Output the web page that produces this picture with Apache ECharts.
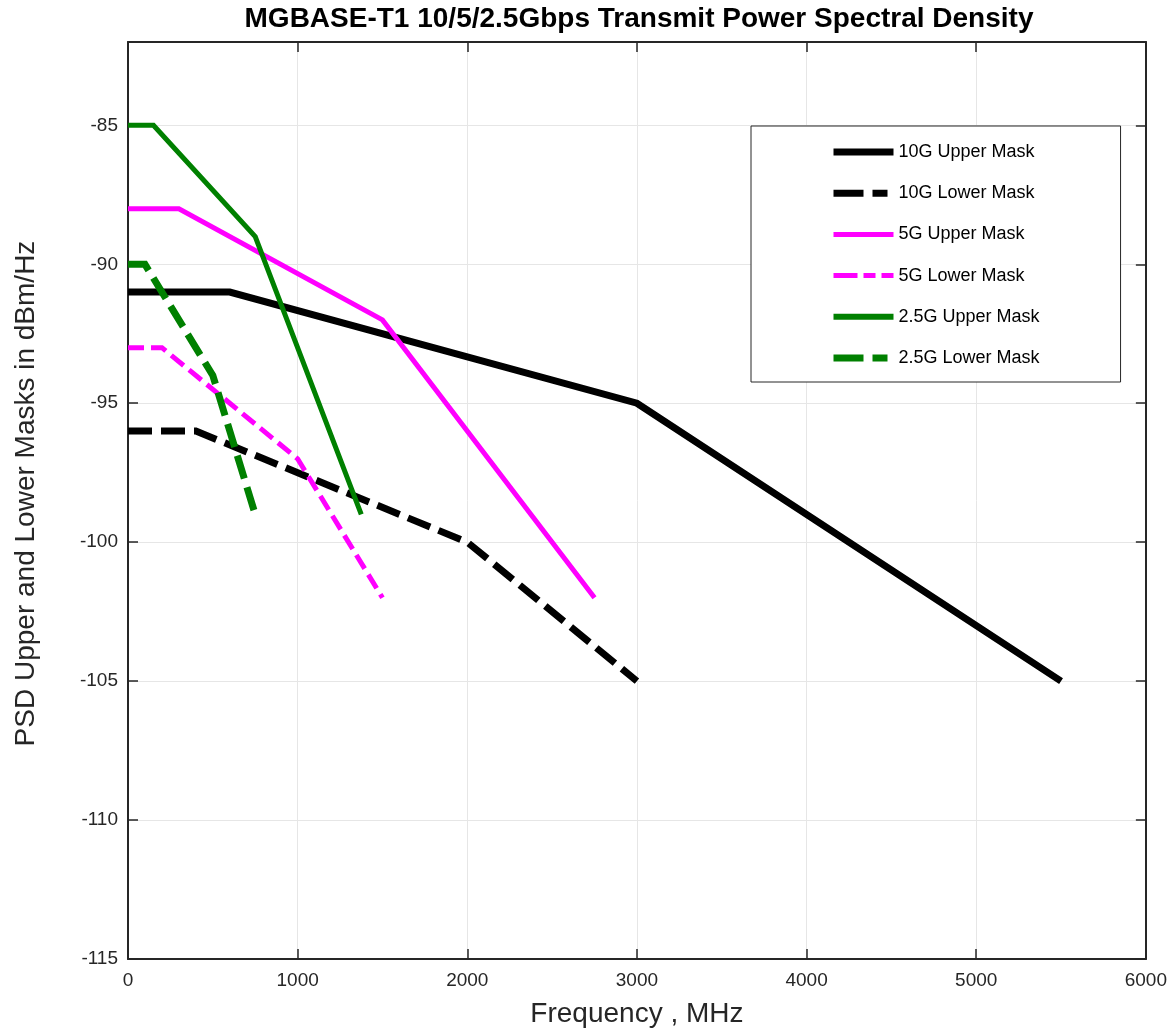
<!DOCTYPE html>
<html>
<head>
<meta charset="utf-8">
<title>MGBASE-T1 Transmit PSD</title>
<script src="https://cdn.jsdelivr.net/npm/echarts@6/dist/echarts.min.js"></script>
<style>
  html, body { margin: 0; padding: 0; background: #fff; overflow: hidden; }
  #chart { width: 1170px; height: 1033px; }
</style>
</head>
<body>
<div id="chart"></div>
<script>
// PSD mask breakpoints: frequency (MHz) and level (dBm/Hz)
const freq10GUpper = [0, 600, 3000, 5500];
const psd10GUpper  = [-91, -91, -95, -105];
const freq10GLower = [0, 400, 2000, 3000];
const psd10GLower  = [-96, -96, -100, -105];
const freq5GUpper  = [0, 300, 1500, 2750];
const psd5GUpper   = [-88, -88, -92, -102];
const freq5GLower  = [0, 200, 1000, 1500];
const psd5GLower   = [-93, -93, -97, -102];
const freq25GUpper = [0, 150, 750, 1375];
const psd25GUpper  = [-85, -85, -89, -99];
const freq25GLower = [0, 100, 500, 750];
const psd25GLower  = [-90, -90, -94, -99];

const seriesNames = ['10G Upper Mask', '10G Lower Mask', '5G Upper Mask',
                     '5G Lower Mask', '2.5G Upper Mask', '2.5G Lower Mask'];

const FONT = '"Liberation Sans", Arial, Helvetica, sans-serif';
const AXIS_COLOR = '#262626';
const GRID_COLOR = '#e6e6e6';

function pairs(xs, ys) {
  return xs.map((x, i) => [x, ys[i]]);
}

const lineDefs = [
  { name: seriesNames[0], x: freq10GUpper, y: psd10GUpper, color: '#000000', width: 7, type: 'solid',  legendWidth: 7, legendType: 'solid' },
  { name: seriesNames[1], x: freq10GLower, y: psd10GLower, color: '#000000', width: 7, type: [24, 9], legendWidth: 7, legendType: [30, 9, 15, 9] },
  { name: seriesNames[2], x: freq5GUpper,  y: psd5GUpper,  color: '#ff00ff', width: 5, type: 'solid',  legendWidth: 5, legendType: 'solid' },
  { name: seriesNames[3], x: freq5GLower,  y: psd5GLower,  color: '#ff00ff', width: 5, type: [16, 7], legendWidth: 5, legendType: [24, 6, 12, 6] },
  { name: seriesNames[4], x: freq25GUpper, y: psd25GUpper, color: '#008000', width: 5, type: 'solid',  legendWidth: 6, legendType: 'solid' },
  { name: seriesNames[5], x: freq25GLower, y: psd25GLower, color: '#008000', width: 7, type: [24, 9], legendWidth: 7, legendType: [30, 9, 15, 9] }
];

const chart = echarts.init(document.getElementById('chart'), null, { renderer: 'canvas', width: 1170, height: 1033 });

const frameAxis = {
  axisLine: { show: true, onZero: false, lineStyle: { color: AXIS_COLOR, width: 2 } },
  axisTick: { show: true, inside: true, length: 10, lineStyle: { color: AXIS_COLOR, width: 1.5 } }
};

const plainNumber = v => String(v);

const option = {
  animation: false,
  backgroundColor: '#ffffff',
  title: {
    text: 'MGBASE-T1 10/5/2.5Gbps Transmit Power Spectral Density',
    left: 639,
    top: 5,
    padding: 0,
    textAlign: 'center',
    textStyle: { fontFamily: FONT, fontSize: 28, fontWeight: 'bold', color: '#000000' }
  },
  // plot frame: x 128..1149, y 42..963
  grid: { left: 128, top: 42, width: 1021, height: 921, containLabel: false },
  legend: {
    orient: 'vertical',
    left: 751,
    top: 126,
    padding: [16, 81, 14, 79],
    itemWidth: 60,
    itemHeight: 20,
    itemGap: 21.2,
    backgroundColor: '#ffffff',
    borderColor: AXIS_COLOR,
    borderWidth: 1,
    textStyle: { fontFamily: FONT, fontSize: 18, color: '#000000', lineHeight: 20 },
    data: lineDefs.map(d => ({
      name: d.name,
      itemStyle: { opacity: 0 },
      lineStyle: { width: d.legendWidth, type: d.legendType, color: d.color, cap: 'butt' }
    }))
  },
  xAxis: [
    Object.assign({
      type: 'value', position: 'bottom', min: 0, max: 6000, interval: 1000,
      name: 'Frequency , MHz', nameLocation: 'middle', nameGap: 41,
      nameTextStyle: { fontFamily: FONT, fontSize: 28, color: AXIS_COLOR },
      axisLabel: { fontFamily: FONT, fontSize: 19, color: AXIS_COLOR, margin: 12, formatter: plainNumber },
      splitLine: { show: true, lineStyle: { color: GRID_COLOR, width: 1 } }
    }, frameAxis),
    Object.assign({
      type: 'value', position: 'top', min: 0, max: 6000, interval: 1000,
      axisLabel: { show: false },
      splitLine: { show: false }
    }, frameAxis)
  ],
  yAxis: [
    Object.assign({
      type: 'value', position: 'left', min: -115, max: -82, interval: 5,
      name: 'PSD Upper and Lower Masks in dBm/Hz', nameLocation: 'middle', nameGap: 88,
      nameTextStyle: { fontFamily: FONT, fontSize: 28, color: AXIS_COLOR, padding: [0, 0, 0, 14] },
      axisLabel: { fontFamily: FONT, fontSize: 19, color: AXIS_COLOR, margin: 10, showMaxLabel: false, formatter: plainNumber },
      splitLine: { show: true, lineStyle: { color: GRID_COLOR, width: 1 } }
    }, frameAxis),
    Object.assign({
      type: 'value', position: 'right', min: -115, max: -82, interval: 5,
      axisLabel: { show: false },
      splitLine: { show: false }
    }, frameAxis)
  ],
  series: lineDefs.map(d => ({
    name: d.name,
    type: 'line',
    xAxisIndex: 0,
    yAxisIndex: 0,
    data: pairs(d.x, d.y),
    symbol: 'none',
    showSymbol: false,
    color: d.color,
    lineStyle: { color: d.color, width: d.width, type: d.type, cap: 'butt', join: 'miter' },
    emphasis: { disabled: true },
    z: 3
  }))
};

chart.setOption(option);
</script>
</body>
</html>
